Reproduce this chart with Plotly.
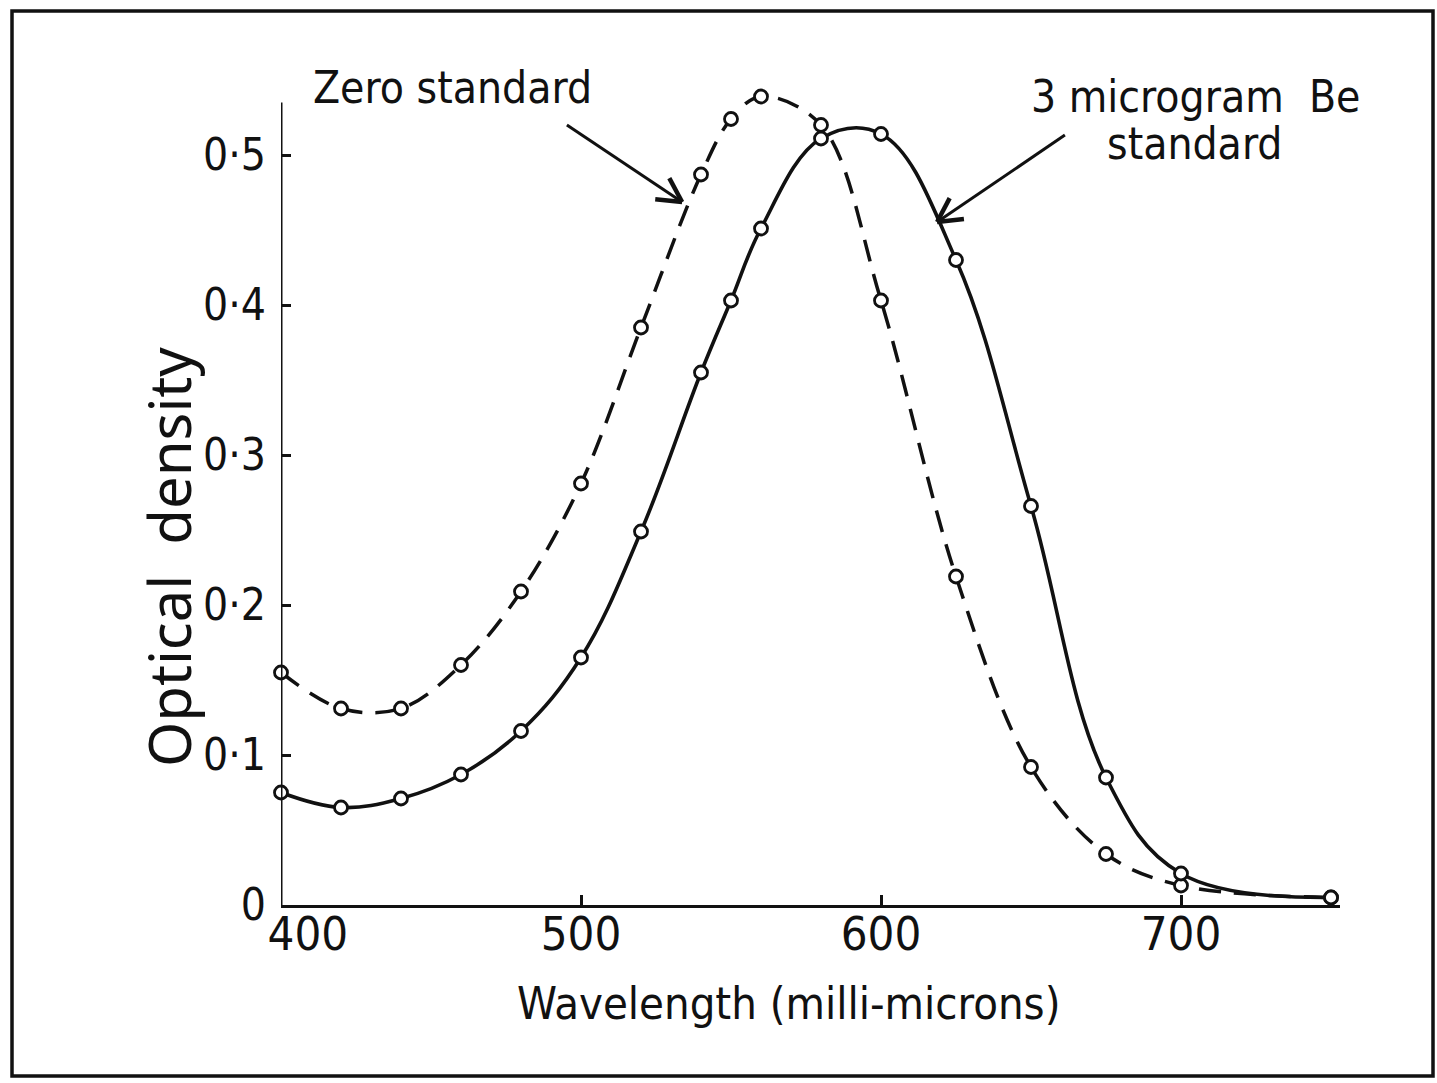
import math
import plotly.graph_objects as go

# ---- data ----
wavelength = [400, 420, 440, 460, 480, 500, 520, 540, 550, 560, 580, 600, 625, 650, 675, 700, 750]
zero_standard = [0.155, 0.131, 0.131, 0.160, 0.209, 0.281, 0.385, 0.487, 0.524, 0.539, 0.520,
                 0.403, 0.219, 0.092, 0.034, 0.013, 0.005]
be3_standard = [0.075, 0.065, 0.071, 0.087, 0.116, 0.165, 0.249, 0.355, 0.403, 0.451, 0.511,
                0.514, 0.430, 0.266, 0.085, 0.021, 0.005]

x_tickvals = [400, 500, 600, 700]
x_ticktext = ["400", "500", "600", "700"]
y_tickvals = [0, 0.1, 0.2, 0.3, 0.4, 0.5]
y_ticktext = ["0", "0·1", "0·2", "0·3", "0·4", "0·5"]

# ---- layout geometry ----
W, H = 1437, 1083
X0_PX, X1_PX = 281, 1340
XR = [400, 753]
Y0_PX = 905
YR = [0, 0.57]
PX_PER_Y = 1500.0
Y1_PX = Y0_PX - YR[1] * PX_PER_Y

TXT = "Liberation Sans Narrow, DejaVu Sans Condensed, sans-serif"
INK = "#111111"


def to_px(x, y):
    return X0_PX + (x - XR[0]) * (X1_PX - X0_PX) / (XR[1] - XR[0]), Y0_PX - y * PX_PER_Y


def to_data(px, py):
    return XR[0] + (px - X0_PX) * (XR[1] - XR[0]) / (X1_PX - X0_PX), (Y0_PX - py) / PX_PER_Y


# the first x label sits a little to the right of its tick, clear of the "0"
x_ticklabels = ["\u2007\u2007" + x_ticktext[0]] + x_ticktext[1:]

fig = go.Figure()

fig.add_trace(go.Scatter(
    x=wavelength, y=zero_standard, mode="lines+markers", name="Zero standard",
    line=dict(color=INK, width=3.5, dash="22px,13px", shape="spline", smoothing=1.0),
    marker=dict(symbol="circle", size=13, color="white", line=dict(color=INK, width=2.8)),
    cliponaxis=False,
))
fig.add_trace(go.Scatter(
    x=wavelength, y=be3_standard, mode="lines+markers", name="3 microgram Be standard",
    line=dict(color=INK, width=3.6, shape="spline", smoothing=1.1),
    marker=dict(symbol="circle", size=13, color="white", line=dict(color=INK, width=2.8)),
    cliponaxis=False,
))

shapes = []
# outer frame
shapes.append(dict(type="rect", xref="paper", yref="paper",
                   x0=12 / W, x1=1433 / W, y0=(H - 1076) / H, y1=(H - 11) / H,
                   line=dict(color=INK, width=3.5)))
# y axis line (stops below the plot top)
shapes.append(dict(type="line", xref="x", yref="y", x0=400, x1=400, y0=0, y1=0.535,
                   line=dict(color=INK, width=3)))


def arrow(start, tip, barb_len=27, ang=28):
    sx, sy = to_px(*start)
    tx, ty = to_px(*tip)
    a = math.atan2(sy - ty, sx - tx)
    pts = []
    for s in (-1, 1):
        b = a + s * math.radians(ang)
        pts.append(to_data(tx + barb_len * math.cos(b), ty + barb_len * math.sin(b)))
    out = [dict(type="line", xref="x", yref="y", x0=start[0], y0=start[1], x1=tip[0], y1=tip[1],
                line=dict(color=INK, width=3))]
    for p in pts:
        out.append(dict(type="line", xref="x", yref="y", x0=tip[0], y0=tip[1], x1=p[0], y1=p[1],
                        line=dict(color=INK, width=4.5)))
    return out


shapes += arrow((495.3, 0.520), (533.7, 0.4687))
shapes += arrow((661.3, 0.5133), (618.7, 0.4553))

annotations = [
    dict(x=457.3, y=0.5447, xref="x", yref="y", text="Zero standard", showarrow=False,
         xanchor="center", yanchor="middle",
         font=dict(family=TXT, size=44, color=INK)),
    dict(x=704.7, y=0.539, xref="x", yref="y", text="3 microgram  Be", showarrow=False,
         xanchor="center", yanchor="middle",
         font=dict(family=TXT, size=44, color=INK)),
    dict(x=704.7, y=0.508, xref="x", yref="y", text="standard", showarrow=False,
         xanchor="center", yanchor="middle",
         font=dict(family=TXT, size=44, color=INK)),
    dict(x=168 / W, y=(H - 557) / H, xref="paper", yref="paper", text="Optical  density",
         textangle=-90, showarrow=False, xanchor="center", yanchor="middle",
         font=dict(family="Noto Sans, Lato, sans-serif", size=58, color=INK)),
    dict(x=789 / W, y=(H - 1003) / H, xref="paper", yref="paper", text="Wavelength (milli-microns)",
         showarrow=False, xanchor="center", yanchor="middle",
         font=dict(family=TXT, size=45, color=INK)),
]

fig.update_layout(
    template="none",
    width=W, height=H, autosize=False,
    margin=dict(l=0, r=0, t=0, b=0, pad=0),
    paper_bgcolor="white", plot_bgcolor="white",
    showlegend=False,
    shapes=shapes, annotations=annotations,
    xaxis=dict(domain=[X0_PX / W, X1_PX / W], range=XR, showgrid=False, zeroline=False,
               automargin=False,
               showline=True, linecolor=INK, linewidth=3,
               tickmode="array", tickvals=x_tickvals, ticktext=x_ticklabels,
               ticks="inside", ticklen=10, tickwidth=2.5, tickcolor=INK,
               ticklabelstandoff=-14,
               tickfont=dict(family=TXT, size=47, color=INK)),
    yaxis=dict(domain=[(H - Y0_PX) / H, (H - Y1_PX) / H], range=YR, showgrid=False, zeroline=False,
               automargin=False,
               showline=False,
               tickmode="array", tickvals=y_tickvals, ticktext=y_ticktext,
               ticks="inside", ticklen=10, tickwidth=3, tickcolor=INK,
               ticklabelstandoff=14,
               tickfont=dict(family=TXT, size=44, color=INK)),
)

fig.write_html("out.html")
